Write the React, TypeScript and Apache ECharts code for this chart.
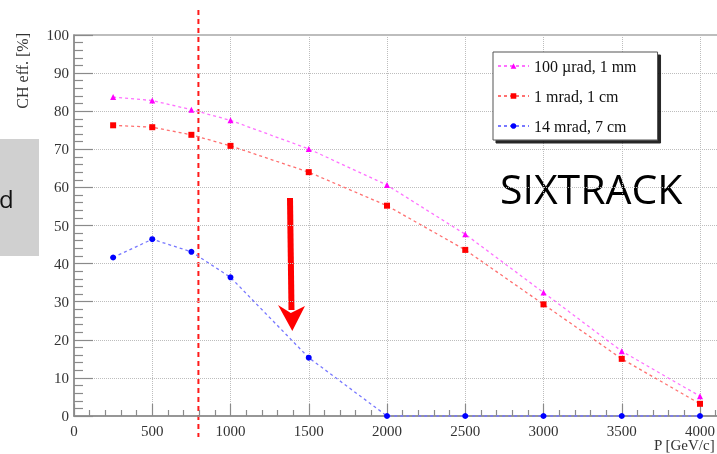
import React, { useEffect, useRef } from "react";
import * as echarts from "echarts";

const momenta = [250, 500, 750, 1000, 1500, 2000, 2500, 3000, 3500, 4000];
const eff100urad = [83.7, 82.8, 80.4, 77.6, 70.1, 60.6, 47.7, 32.4, 17.0, 5.2];
const eff1mrad = [76.3, 75.8, 73.8, 70.9, 64.0, 55.2, 43.6, 29.3, 15.0, 3.2];
const eff14mrad = [41.6, 46.4, 43.1, 36.4, 15.3, 0, 0, 0, 0, 0];
const seriesNames = ["100 µrad, 1 mm", "1 mrad, 1 cm", "14 mrad, 7 cm"];
const cutMomentum = 795;

const SERIF = "'Liberation Serif', 'DejaVu Serif', serif";

export default function App() {
  const ref = useRef<HTMLDivElement>(null);
  useEffect(() => {
    if (!ref.current) return;
    const chart = echarts.init(ref.current, undefined, { renderer: "svg" });
    const pairs = (ys: number[]) => momenta.map((x, i) => [x, ys[i]]);
    const mk = (name: string, ys: number[], marker: string, lineColor: string, symbol: string, size: number) => ({
      name,
      type: "line",
      data: pairs(ys),
      symbol,
      symbolSize: size,
      showAllSymbol: true,
      clip: false,
      itemStyle: { color: marker },
      lineStyle: { color: lineColor, width: 1.3, type: [3, 3] },
      emphasis: { disabled: true },
    });
    const option: any = {
      animation: false,
      grid: {
        left: 74,
        top: 35,
        bottom: 38,
        right: 1.75,
        show: true,
        borderColor: "#a8a8a8",
        borderWidth: 1.5,
        backgroundColor: "transparent",
      },
      legend: {
        orient: "vertical",
        left: 493,
        top: 52,
        padding: [6, 21, 6, 4],
        itemGap: 14,
        itemWidth: 31,
        itemHeight: 7,
        backgroundColor: "#fff",
        borderColor: "#555",
        borderWidth: 1,
        shadowColor: "rgba(0,0,0,0.85)",
        shadowBlur: 0,
        shadowOffsetX: 3,
        shadowOffsetY: 3,
        textStyle: { fontFamily: SERIF, fontSize: 16, color: "#111" },
        data: seriesNames,
      },
      xAxis: {
        type: "value",
        min: 0,
        max: 4500,
        interval: 500,
        axisLine: { show: true, onZero: false, lineStyle: { color: "#8a8a8a", width: 1.5 } },
        axisTick: { show: true, inside: true, length: 12, lineStyle: { color: "#8a8a8a", width: 1.2 } },
        minorTick: { show: true, splitNumber: 5, length: 6, lineStyle: { color: "#8a8a8a", width: 1.2 } },
        splitLine: { show: true, lineStyle: { color: "#bdbdbd", type: "dotted", width: 1 } },
        axisLabel: {
          fontFamily: SERIF,
          fontSize: 15,
          color: "#333",
          margin: 7,
          showMaxLabel: false,
          formatter: (v: number) => (v % 500 === 0 && v <= 4000 ? String(v) : ""),
        },
      },
      yAxis: {
        type: "value",
        min: 0,
        max: 100,
        interval: 10,
        axisLine: { show: true, lineStyle: { color: "#8a8a8a", width: 1.5 } },
        axisTick: { show: true, inside: true, length: 19, lineStyle: { color: "#8a8a8a", width: 1.2 } },
        minorTick: { show: true, splitNumber: 5, length: 9, lineStyle: { color: "#8a8a8a", width: 1.2 } },
        splitLine: { show: true, lineStyle: { color: "#bdbdbd", type: "dotted", width: 1 } },
        axisLabel: { fontFamily: SERIF, fontSize: 15, color: "#333", margin: 5 },
      },
      series: [
        mk(seriesNames[0], eff100urad, "#ff00ff", "#ff70ff", "triangle", 6),
        mk(seriesNames[1], eff1mrad, "#ff0000", "#ff7070", "rect", 6),
        mk(seriesNames[2], eff14mrad, "#0000ff", "#7878ff", "circle", 6),
      ],
      graphic: [],
    };
    chart.setOption(option);
    const cutX = chart.convertToPixel({ xAxisIndex: 0 }, cutMomentum) as number;
    chart.setOption({
      graphic: [
        { type: "rect", shape: { x: 0, y: 139, width: 39, height: 117 }, style: { fill: "#d0d0d0" } },
        {
          type: "text",
          x: -1,
          y: 198,
          style: { text: "d", fontFamily: "'Open Sans', 'Noto Sans', sans-serif", fontSize: 24, fill: "#111", textAlign: "left", textVerticalAlign: "middle" },
        },
        {
          type: "text",
          x: 22,
          y: 33,
          rotation: Math.PI / 2,
          style: { text: "CH eff. [%]", fontFamily: SERIF, fontSize: 16, fill: "#333", textAlign: "right", textVerticalAlign: "middle" },
        },
        {
          type: "text",
          x: 654,
          y: 445,
          style: { text: "P [GeV/c]", fontFamily: SERIF, fontSize: 15, fill: "#333", textAlign: "left", textVerticalAlign: "middle" },
        },
        {
          type: "text",
          x: 500,
          y: 188,
          style: { text: "SIXTRACK", fontFamily: "'Open Sans', 'Noto Sans', sans-serif", fontSize: 41, fill: "#000", textAlign: "left", textVerticalAlign: "middle" },
        },
        {
          type: "line",
          shape: { x1: cutX, y1: 10, x2: cutX, y2: 437 },
          style: { stroke: "#ff1a1a", lineWidth: 2, lineDash: [5, 4] },
        },
        {
          type: "line",
          shape: { x1: 290, y1: 198, x2: 291.5, y2: 310 },
          style: { stroke: "#ff0000", lineWidth: 6 },
        },
        {
          type: "polygon",
          shape: { points: [[278, 305], [290.8, 313], [305, 306], [292.3, 331]] },
          style: { fill: "#ff0000" },
        },
      ],
    });
    return () => chart.dispose();
  }, []);
  return <div ref={ref} style={{ position: "fixed", left: 0, top: 0, width: 780, height: 454 }} />;
}
